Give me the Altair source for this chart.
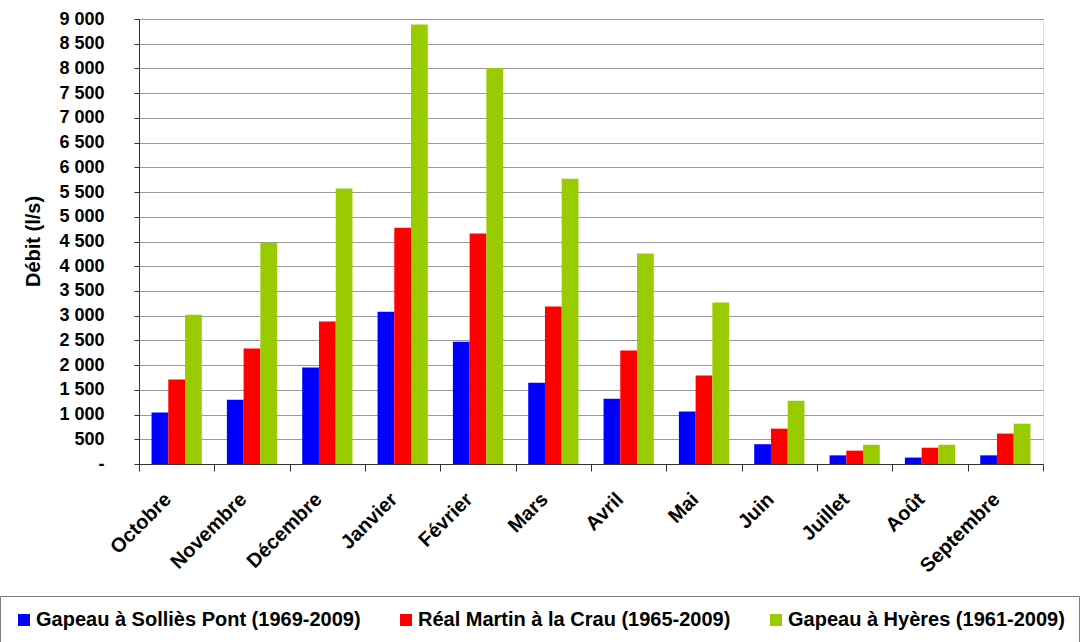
import altair as alt
import pandas as pd

months = ["Octobre", "Novembre", "Décembre", "Janvier", "Février", "Mars",
          "Avril", "Mai", "Juin", "Juillet", "Août", "Septembre"]
series = ["Gapeau à Solliès Pont (1969-2009)",
          "Réal Martin à la Crau (1965-2009)",
          "Gapeau à Hyères (1961-2009)"]
sollies = [1040, 1300, 1950, 3080, 2475, 1645, 1320, 1060, 400, 175, 130, 175]
crau = [1710, 2335, 2880, 4780, 4660, 3185, 2295, 1790, 715, 270, 330, 615]
hyeres = [3020, 4475, 5570, 8890, 8010, 5770, 4255, 3265, 1280, 390, 390, 815]
colors = ["#0000FF", "#FF0000", "#99CC00"]
y_ticks = list(range(0, 9001, 500))

rows = []
for name, vals in zip(series, [sollies, crau, hyeres]):
    for m, v in zip(months, vals):
        rows.append({"mois": m, "serie": name, "debit": v})
df = pd.DataFrame(rows)

FONT = "Liberation Sans"

chart = alt.Chart(df).mark_bar().encode(
    x=alt.X("mois:N", sort=months,
            scale=alt.Scale(paddingInner=0, paddingOuter=0),
            axis=alt.Axis(title=None, labelAngle=-45, tickBand="extent",
                          labelAlign="right", labelBaseline="middle",
                          labelOffset=-9,
                          labelFont=FONT, labelFontSize=20, labelFontWeight="bold",
                          labelColor="#000000", labelPadding=25, tickSize=7,
                          domainColor="#333333", tickColor="#333333", grid=False)),
    xOffset=alt.XOffset("serie:N", sort=series,
                        scale=alt.Scale(paddingOuter=0.75, paddingInner=0)),
    y=alt.Y("debit:Q",
            scale=alt.Scale(domain=[0, 9000], nice=False),
            axis=alt.Axis(title="Débit (l/s)", values=y_ticks,
                          labelExpr="datum.value == 0 ? '-' : replace(format(datum.value, ','), ',', ' ')",
                          labelFont=FONT, labelFontSize=18, labelFontWeight="bold",
                          labelColor="#000000", labelPadding=30, tickSize=5,
                          domainColor="#333333", tickColor="#333333",
                          gridColor="#999999", gridWidth=1,
                          titleFont=FONT, titleFontSize=20, titleFontWeight="bold",
                          titleColor="#000000", titleX=-96, titleY=222,
                          titleAlign="center", titleBaseline="bottom")),
    color=alt.Color("serie:N", sort=series,
                    scale=alt.Scale(domain=series, range=colors),
                    legend=alt.Legend(title=None, orient="none", legendX=-139, legendY=577,
                                      direction="horizontal", strokeColor="#808080",
                                      fillColor="#FFFFFF", padding=14,
                                      symbolType="square", symbolSize=144,
                                      symbolStrokeWidth=0, labelOffset=2,
                                      columnPadding=35, labelFont=FONT,
                                      labelFontSize=20, labelFontWeight="bold",
                                      labelColor="#000000", labelLimit=500)),
).properties(
    width=904,
    height=445,
    autosize=alt.AutoSizeParams(type="none"),
    padding={"left": 139, "top": 19, "right": 43, "bottom": 178},
).configure_view(
    stroke="#808080", strokeWidth=1
).configure(
    background="#FFFFFF"
)

chart.save("out.html", embed_options={"renderer": "svg", "actions": False})
